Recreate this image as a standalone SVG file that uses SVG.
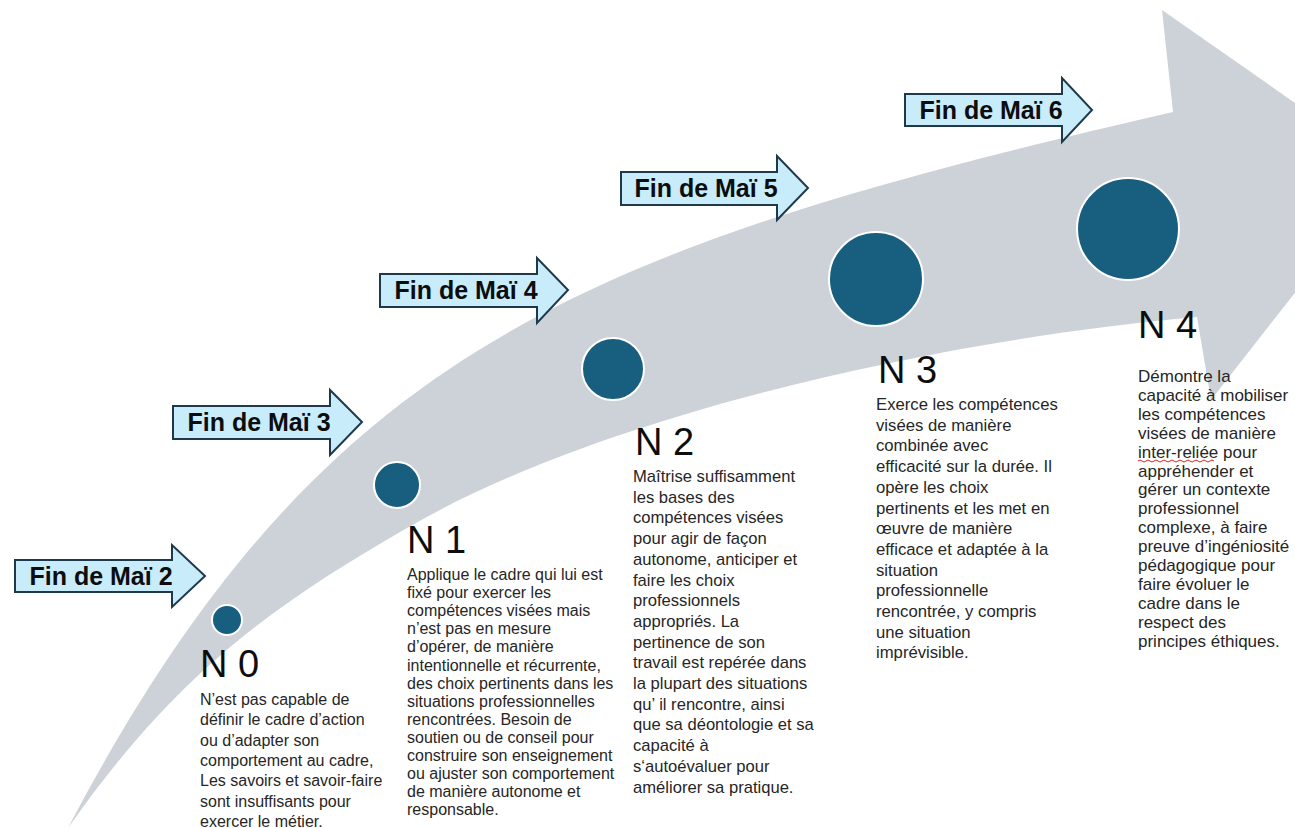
<svg xmlns="http://www.w3.org/2000/svg" width="1295" height="828" viewBox="0 0 1295 828">
<style>
.band{fill:#cdd2d9}
.dot{fill:#175e7f;stroke:#ffffff;stroke-width:2}
.lbl{fill:#c9ecfb;stroke:#1e3a4a;stroke-width:2;stroke-linejoin:miter}
.lt{font-family:"Liberation Sans",Arial,sans-serif;font-weight:bold;font-size:25px;fill:#0d0d0d;text-anchor:middle}
.big{font-family:"Liberation Sans",Arial,sans-serif;font-size:38px;fill:#0d0d0d}
.body{font-family:"Liberation Sans",Arial,sans-serif;font-size:16px;fill:#262626}
</style>
<rect width="1295" height="828" fill="#ffffff"/>
<g id="progress-arrow">
<path class="band" d="M68,828 C318,353 573,250 1173,112 L1162,10 L1391,170 L1211,400 L1197,317 C947,339 607,412 407,528 C277,603 178,671 68,828 Z"/>
</g>
<g id="connectors">
<path id="arrow-m2" class="lbl" d="M15,560 H172 V545 L205,576 L172,607 V592 H15 Z"/>
<path id="arrow-m3" class="lbl" d="M173,406 H330 V390 L362,422 L330,455 V439 H173 Z"/>
<path id="arrow-m4" class="lbl" d="M380,274 H537 V258 L568,290 L537,323 V307 H380 Z"/>
<path id="arrow-m5" class="lbl" d="M621,172 H777 V156 L808,188 L777,220 V205 H621 Z"/>
<path id="arrow-m6" class="lbl" d="M905,94 H1062 V78 L1092,110 L1062,142 V126 H905 Z"/>
</g>
<g id="label-m2"><text class="lt" x="101" y="585">Fin de Maï 2</text></g>
<g id="label-m3"><text class="lt" x="259" y="431">Fin de Maï 3</text></g>
<g id="label-m4"><text class="lt" x="466" y="299">Fin de Maï 4</text></g>
<g id="label-m5"><text class="lt" x="706" y="197">Fin de Maï 5</text></g>
<g id="label-m6"><text class="lt" x="991" y="119">Fin de Maï 6</text></g>

<g id="n0">
<circle class="dot" cx="227" cy="620" r="15"/>
<text class="big" x="200" y="677">N 0</text>
<text class="body" x="200" y="705">
<tspan x="200" dy="0">N’est pas capable de</tspan>
<tspan x="200" dy="20.3">définir le cadre d’action</tspan>
<tspan x="200" dy="20.3">ou d’adapter son</tspan>
<tspan x="200" dy="20.3">comportement au cadre,</tspan>
<tspan x="200" dy="20.3">Les savoirs et savoir-faire</tspan>
<tspan x="200" dy="20.3">sont insuffisants pour</tspan>
<tspan x="200" dy="20.3">exercer le métier.</tspan>
</text>
</g>

<g id="n1">
<circle class="dot" cx="397" cy="485" r="23"/>
<text class="big" x="407" y="553">N 1</text>
<text class="body" x="407" y="580">
<tspan x="407" dy="0">Applique le cadre qui lui est</tspan>
<tspan x="407" dy="18.1">fixé pour exercer les</tspan>
<tspan x="407" dy="18.1">compétences visées mais</tspan>
<tspan x="407" dy="18.1">n’est pas en mesure</tspan>
<tspan x="407" dy="18.1">d’opérer, de manière</tspan>
<tspan x="407" dy="18.1">intentionnelle et récurrente,</tspan>
<tspan x="407" dy="18.1">des choix pertinents dans les</tspan>
<tspan x="407" dy="18.1">situations professionnelles</tspan>
<tspan x="407" dy="18.1">rencontrées. Besoin de</tspan>
<tspan x="407" dy="18.1">soutien ou de conseil pour</tspan>
<tspan x="407" dy="18.1">construire son enseignement</tspan>
<tspan x="407" dy="18.1">ou ajuster son comportement</tspan>
<tspan x="407" dy="18.1">de manière autonome et</tspan>
<tspan x="407" dy="18.1">responsable.</tspan>
</text>
</g>

<g id="n2">
<circle class="dot" cx="613" cy="369" r="31"/>
<text class="big" x="635" y="455">N 2</text>
<text class="body" x="633" y="482" style="font-size:16.6px">
<tspan x="633" dy="0">Maîtrise suffisamment</tspan>
<tspan x="633" dy="20.7">les bases des</tspan>
<tspan x="633" dy="20.7">compétences visées</tspan>
<tspan x="633" dy="20.7">pour agir de façon</tspan>
<tspan x="633" dy="20.7">autonome, anticiper et</tspan>
<tspan x="633" dy="20.7">faire les choix</tspan>
<tspan x="633" dy="20.7">professionnels</tspan>
<tspan x="633" dy="20.7">appropriés. La</tspan>
<tspan x="633" dy="20.7">pertinence de son</tspan>
<tspan x="633" dy="20.7">travail est repérée dans</tspan>
<tspan x="633" dy="20.7">la plupart des situations</tspan>
<tspan x="633" dy="20.7">qu’ il rencontre, ainsi</tspan>
<tspan x="633" dy="20.7">que sa déontologie et sa</tspan>
<tspan x="633" dy="20.7">capacité à</tspan>
<tspan x="633" dy="20.7">s‘autoévaluer pour</tspan>
<tspan x="633" dy="20.7">améliorer sa pratique.</tspan>
</text>
</g>

<g id="n3">
<circle class="dot" cx="876" cy="279" r="47"/>
<text class="big" x="878" y="383">N 3</text>
<text class="body" x="876" y="410" style="font-size:16.7px">
<tspan x="876" dy="0">Exerce les compétences</tspan>
<tspan x="876" dy="20.7">visées de manière</tspan>
<tspan x="876" dy="20.7">combinée avec</tspan>
<tspan x="876" dy="20.7">efficacité sur la durée. Il</tspan>
<tspan x="876" dy="20.7">opère les choix</tspan>
<tspan x="876" dy="20.7">pertinents et les met en</tspan>
<tspan x="876" dy="20.7">œuvre de manière</tspan>
<tspan x="876" dy="20.7">efficace et adaptée à la</tspan>
<tspan x="876" dy="20.7">situation</tspan>
<tspan x="876" dy="20.7">professionnelle</tspan>
<tspan x="876" dy="20.7">rencontrée, y compris</tspan>
<tspan x="876" dy="20.7">une situation</tspan>
<tspan x="876" dy="20.7">imprévisible.</tspan>
</text>
</g>

<g id="n4">
<circle class="dot" cx="1128" cy="229" r="51"/>
<text class="big" x="1138" y="338">N 4</text>
<text class="body" x="1138" y="382" style="font-size:17px">
<tspan x="1138" dy="0">Démontre la</tspan>
<tspan x="1138" dy="18.9">capacité à mobiliser</tspan>
<tspan x="1138" dy="18.9">les compétences</tspan>
<tspan x="1138" dy="18.9">visées de manière</tspan>
<tspan x="1138" dy="18.9">inter-reliée pour</tspan>
<tspan x="1138" dy="18.9">appréhender et</tspan>
<tspan x="1138" dy="18.9">gérer un contexte</tspan>
<tspan x="1138" dy="18.9">professionnel</tspan>
<tspan x="1138" dy="18.9">complexe, à faire</tspan>
<tspan x="1138" dy="18.9">preuve d’ingéniosité</tspan>
<tspan x="1138" dy="18.9">pédagogique pour</tspan>
<tspan x="1138" dy="18.9">faire évoluer le</tspan>
<tspan x="1138" dy="18.9">cadre dans le</tspan>
<tspan x="1138" dy="18.9">respect des</tspan>
<tspan x="1138" dy="18.9">principes éthiques.</tspan>
</text>
<path d="M1138,461 q2,-2 4,0 t4,0 t4,0 t4,0 t4,0 t4,0 t4,0 t4,0 t4,0 t4,0 t4,0 t4,0 t4,0 t4,0 t4,0 t4,0 t4,0 t4,0 t4,0" fill="none" stroke="#e02424" stroke-width="1"/>
</g>
</svg>
